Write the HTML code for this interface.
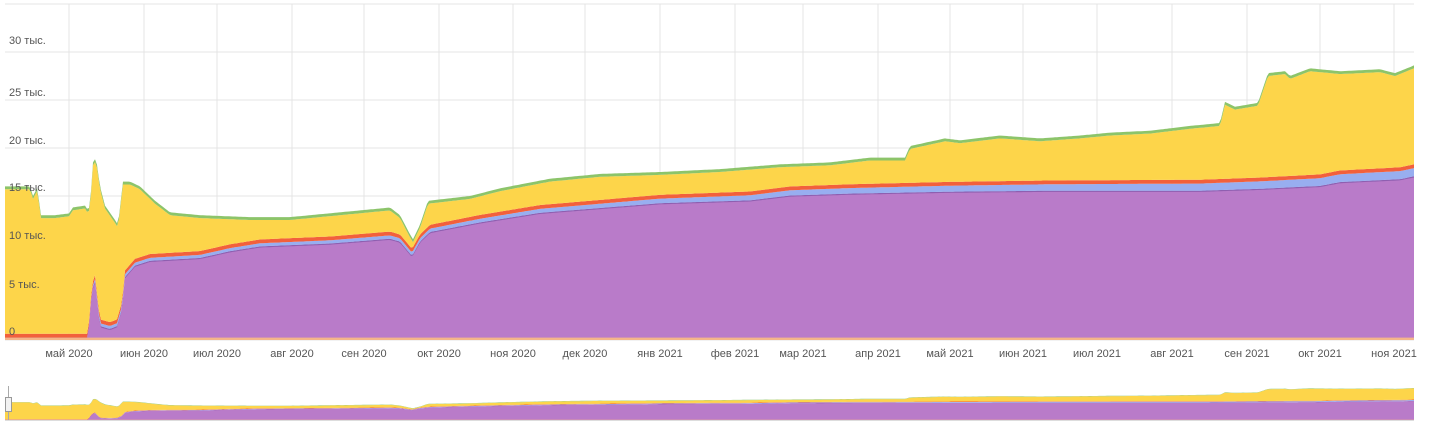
<!DOCTYPE html>
<html><head><meta charset="utf-8"><style>
body{margin:0;background:#fff;width:1430px;height:426px;overflow:hidden}
svg text{font-family:"Liberation Sans",sans-serif;font-size:11px;fill:#555}
</style></head><body>
<svg id="s" width="1430" height="426" xmlns="http://www.w3.org/2000/svg"></svg>
<script>
const T=[[5,16],[30,16],[33,15],[38,16],[40,13],[55,13],[70,13.2],[72,13.8],[85,14],[88,13.5],[90,14],[93,18.5],[96,19],[100,16],[105,14],[115,12.5],[118,12],[123,16.5],[130,16.5],[140,16],[155,14.5],[170,13.3],[200,13],[250,12.8],[290,12.8],[340,13.3],[390,13.8],[400,13],[410,11],[413,10.5],[420,12],[428,14.5],[470,15],[500,15.8],[550,16.8],[600,17.3],[660,17.5],[720,17.8],[780,18.3],[830,18.5],[870,19],[905,19],[910,20.2],[945,21],[960,20.8],[1000,21.3],[1040,21],[1080,21.3],[1110,21.6],[1150,21.8],[1190,22.3],[1220,22.6],[1225,24.8],[1235,24.3],[1258,24.7],[1268,27.8],[1285,28],[1290,27.5],[1310,28.3],[1340,28],[1380,28.2],[1395,27.8],[1414,28.6]];
const P=[[5,0],[88,0],[92,5],[95,5.8],[100,1.2],[110,0.9],[117,1.2],[122,3],[125,6.3],[135,7.5],[150,8],[200,8.3],[230,9],[260,9.5],[330,9.8],[390,10.3],[400,10],[412,8.5],[420,10],[430,11],[480,12],[540,13],[600,13.5],[660,14],[750,14.3],[790,14.8],[850,15],[950,15.2],[1050,15.3],[1200,15.3],[1260,15.5],[1320,15.8],[1340,16.2],[1400,16.5],[1414,16.8]];
const B=[[5,0],[88,0],[95,0.3],[430,0.35],[800,0.55],[1414,0.85]];
function interp(a,x){for(let i=1;i<a.length;i++){if(x<=a[i][0]){const[x0,y0]=a[i-1],[x1,y1]=a[i];return y0+(y1-y0)*(x-x0)/(x1-x0);}}return a[a.length-1][1];}
const xs=[];for(let x=5;x<=1414;x+=2)xs.push(x);xs.push(1414);
function band(lo,hi,y0,k,c){let d='M';xs.forEach((x,i)=>{d+=(i?'L':'')+x+','+(y0-hi(x)*k).toFixed(1)});for(let i=xs.length-1;i>=0;i--)d+='L'+xs[i]+','+(y0-lo(xs[i])*k).toFixed(1);return `<path d="${d}Z" fill="${c}"/>`;}
let h='';
for(let i=0;i<=6;i++){const y=340-i*48;h+=`<line x1="5" x2="1414" y1="${y}" y2="${y}" stroke="#e4e4e4"/>`;}
h+=`<line x1="5" x2="1414" y1="4" y2="4" stroke="#e4e4e4"/>`;
const M=[['май 2020',69],['июн 2020',144],['июл 2020',217],['авг 2020',292],['сен 2020',364],['окт 2020',439],['ноя 2020',513],['дек 2020',585],['янв 2021',660],['фев 2021',735],['мар 2021',803],['апр 2021',878],['май 2021',950],['июн 2021',1023],['июл 2021',1097],['авг 2021',1172],['сен 2021',1247],['окт 2021',1320],['ноя 2021',1394]];
M.forEach(m=>{h+=`<line x1="${m[1]}" x2="${m[1]}" y1="4" y2="340" stroke="#e4e4e4"/>`;});
function layers(y0,k){
 const p=x=>0.25+interp(P,x),t=x=>interp(T,x),b=x=>interp(B,x);
 let s='';
 s+=band(x=>0,x=>p(x),y0,k,'#b97bc9');
 s+=band(x=>p(x)-0.12,x=>p(x),y0,k,'#8e5fb0');
 s+=band(x=>p(x),x=>p(x)+b(x),y0,k,'#98aef0');
 s+=band(x=>p(x)+b(x),x=>p(x)+b(x)+0.4,y0,k,'#f2603c');
 s+=band(x=>p(x)+b(x)+0.4,x=>t(x)-0.3,y0,k,'#fdd54a');
 s+=band(x=>t(x)-0.3,x=>t(x),y0,k,'#8cc46a');
 s+=`<rect x="5" y="${y0-0.25*k}" width="1409" height="${Math.max(1,0.25*k)}" fill="#f4b58a"/>`;
 return s;}
h+=layers(340,9.6);
[['30 тыс.',44],['25 тыс.',96],['20 тыс.',144],['15 тыс.',191],['10 тыс.',239],['5 тыс.',288],['0',335]].forEach(l=>{h+=`<text x="9" y="${l[1]}" font-size="10">${l[0]}</text>`;});
M.forEach(m=>{h+=`<text x="${m[1]}" y="357" text-anchor="middle">${m[0]}</text>`;});
h+=layers(420,1.12);
h+=`<line x1="5" x2="1414" y1="420.5" y2="420.5" stroke="#ddd"/>`;
h+=`<line x1="8.5" x2="8.5" y1="386" y2="420" stroke="#aaa"/>`;
h+=`<rect x="5.5" y="397.5" width="6" height="14" fill="#f2f2f2" stroke="#999"/>`;
document.getElementById('s').innerHTML=h;
</script>
</body></html>
